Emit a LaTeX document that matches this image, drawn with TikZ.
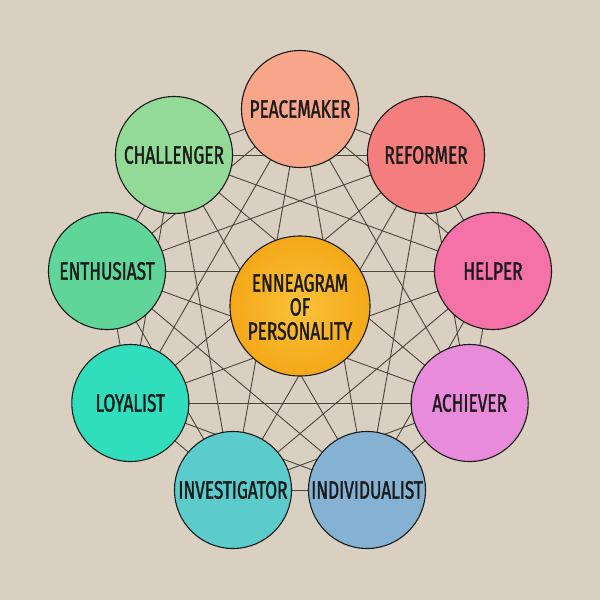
\documentclass[tikz,border=0pt]{standalone}
\usepackage{fontspec}
\newfontfamily\hand{Fira Sans}[FakeStretch=0.69, FakeBold=1.3]
\pgfdeclarelayer{bg}
\pgfdeclarelayer{paper}
\pgfsetlayers{paper,bg,main}
\definecolor{paperc}{HTML}{D9D0C1}
\definecolor{edgec}{HTML}{4A443C}
\definecolor{inkc}{HTML}{1A1A1A}
\definecolor{c1}{HTML}{F8A68A}
\definecolor{c2}{HTML}{F47D7D}
\definecolor{c3}{HTML}{F572A8}
\definecolor{c4}{HTML}{E98BDB}
\definecolor{c5}{HTML}{85B2D2}
\definecolor{c6}{HTML}{5CCBCB}
\definecolor{c7}{HTML}{30DDBD}
\definecolor{c8}{HTML}{60D59A}
\definecolor{c9}{HTML}{93DA98}
\definecolor{cc}{HTML}{F4A818}
\definecolor{ccin}{HTML}{FAC23A}
\tikzset{
  typebox/.style={circle, draw=inkc, line width=1.1pt, minimum size=117pt, inner sep=0pt,
    text=inkc, font=\hand\fontsize{25}{25}\selectfont},
  hubbox/.style={circle, draw=inkc, line width=1.1pt, minimum size=140pt, inner sep=0pt,
    inner color=ccin, outer color=cc},
  hubtext/.style={inner sep=0pt, text=inkc, font=\hand\fontsize{25}{25}\selectfont},
  edge/.style={draw=edgec, line width=0.9pt}
}
\begin{document}
\begin{tikzpicture}[x=1pt,y=-1pt]
\begin{pgfonlayer}{paper}
\fill[paperc] (0,0) rectangle (600,600);
\end{pgfonlayer}
\useasboundingbox (0,0) rectangle (600,600);
\node[typebox, fill=c1] (n1) at (300,109) {PEACEMAKER};
\node[typebox, fill=c2] (n2) at (426,155) {REFORMER};
\node[typebox, fill=c3] (n3) at (493,271) {HELPER};
\node[typebox, fill=c4] (n4) at (469.7,403) {ACHIEVER};
\node[typebox, fill=c5] (n5) at (367,490) {INDIVIDUALIST};
\node[typebox, fill=c6] (n6) at (233,490) {INVESTIGATOR};
\node[typebox, fill=c7] (n7) at (130.3,403) {LOYALIST};
\node[typebox, fill=c8] (n8) at (107,271) {ENTHUSIAST};
\node[typebox, fill=c9] (n9) at (174,155) {CHALLENGER};
\node[hubbox] (hub) at (300,306) {};
\node[hubtext] (hubl1) at (300,283) {ENNEAGRAM};
\node[hubtext] (hubl2) at (300,307) {OF};
\node[hubtext] (hubl3) at (300,331) {PERSONALITY};
\begin{pgfonlayer}{bg}
\foreach \i in {1,...,8} {
  \pgfmathtruncatemacro\s{\i+1}
  \foreach \j in {\s,...,9} {
    \draw[edge] (n\i.center) -- (n\j.center);
  }
}
\end{pgfonlayer}
\end{tikzpicture}
\end{document}
